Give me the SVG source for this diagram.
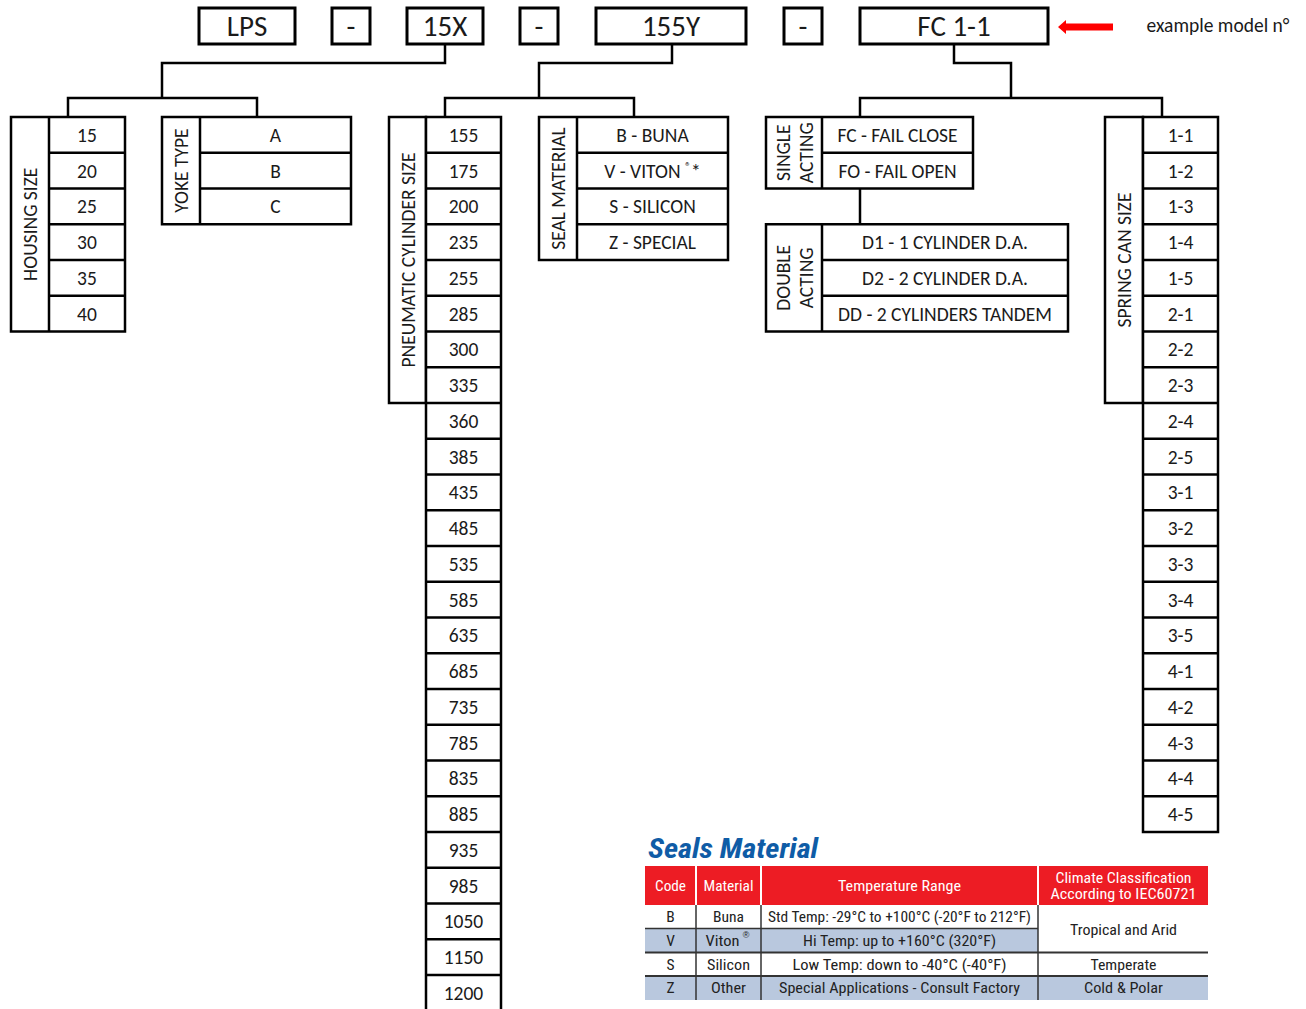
<svg xmlns="http://www.w3.org/2000/svg" width="1306" height="1009" viewBox="0 0 1306 1009">
<style>
.bx{fill:#fff;stroke:#000;stroke-width:2.5}
.tb{fill:#fff;stroke:#000;stroke-width:3}
.ln{stroke:#000;stroke-width:2.5;fill:none}
.t{font-family:Carlito,Lato,"Open Sans",sans-serif;font-size:19.5px;fill:#1a1a1a;text-anchor:middle;dominant-baseline:central}
.tt{font-family:Carlito,Lato,"Open Sans",sans-serif;font-size:29px;fill:#1a1a1a;text-anchor:middle;dominant-baseline:central}
.vl{font-family:Carlito,Lato,"Open Sans",sans-serif;font-size:19.5px;fill:#1a1a1a;text-anchor:middle;dominant-baseline:central}
.n{font-family:"Liberation Sans Narrow","Roboto Condensed","Liberation Sans",sans-serif;font-size:15.5px;fill:#222;text-anchor:middle;dominant-baseline:central}
.h{font-family:"Liberation Sans Narrow","Roboto Condensed","Liberation Sans",sans-serif;font-size:15.5px;fill:#fff;text-anchor:middle;dominant-baseline:central}
.rl{stroke:#333;stroke-width:1.5}
.wl{stroke:#fff;stroke-width:2}
</style>

<g id="connectors">
<path class="ln" d="M445,44 V63 H162 V98 M68,117 V98 H257 V117"/>
<path class="ln" d="M672,44 V63 H539 V98 M445,117 V98 H634 V117"/>
<path class="ln" d="M954,44 V63 H1011 V98 M860,117 V98 H1162 V117"/>
<path class="ln" d="M860,188 V224"/>
<polygon fill="#f00" points="1058,27 1066,20 1066,23.5 1113,23.5 1113,30.5 1066,30.5 1066,34"/>
</g>

<g id="model">
<g id="box-lps"><rect class="tb" x="199" y="8" width="96" height="36"/><text class="tt" x="247" y="26">LPS</text></g>
<g id="dash1"><rect class="tb" x="332" y="8" width="38" height="36"/><text class="tt" x="351" y="26">-</text></g>
<g id="box-15x"><rect class="tb" x="407" y="8" width="76" height="36"/><text class="tt" x="445" y="26">15X</text></g>
<g id="dash2"><rect class="tb" x="520" y="8" width="38" height="36"/><text class="tt" x="539" y="26">-</text></g>
<g id="box-155y"><rect class="tb" x="596" y="8" width="150" height="36"/><text class="tt" x="671" y="26">155Y</text></g>
<g id="dash3"><rect class="tb" x="784" y="8" width="38" height="36"/><text class="tt" x="803" y="26">-</text></g>
<g id="box-fc"><rect class="tb" x="860" y="8" width="188" height="36"/><text class="tt" x="954" y="26">FC 1-1</text></g>
<text id="example" class="t" x="1218" y="25">example model n°</text>
</g>

<g id="housing-size">
<rect class="bx" x="11" y="117" width="114" height="214.5"/>
<path class="ln" d="M49,117 V331.5 M49,152.75 H125 M49,188.5 H125 M49,224.25 H125 M49,260 H125 M49,295.75 H125"/>
<text class="vl" transform="translate(30,224.25) rotate(-90)">HOUSING SIZE</text>
<text class="t" x="87" y="134.9">15</text>
<text class="t" x="87" y="170.6">20</text>
<text class="t" x="87" y="206.4">25</text>
<text class="t" x="87" y="242.1">30</text>
<text class="t" x="87" y="277.9">35</text>
<text class="t" x="87" y="313.6">40</text>
</g>

<g id="yoke-type">
<rect class="bx" x="162" y="117" width="189" height="107.25"/>
<path class="ln" d="M200,117 V224.25 M200,152.75 H351 M200,188.5 H351"/>
<text class="vl" transform="translate(181,170.6) rotate(-90)">YOKE TYPE</text>
<text class="t" x="275.5" y="134.9">A</text>
<text class="t" x="275.5" y="170.6">B</text>
<text class="t" x="275.5" y="206.4">C</text>
</g>

<g id="cylinder-size">
<rect class="bx" x="389" y="117" width="37" height="286"/>
<rect class="bx" x="426" y="117" width="75" height="900"/>
<path class="ln" d="M426,152.75 H501 M426,188.5 H501 M426,224.25 H501 M426,260 H501 M426,295.75 H501 M426,331.5 H501 M426,367.25 H501 M426,403 H501 M426,438.75 H501 M426,474.5 H501 M426,510.25 H501 M426,546 H501 M426,581.75 H501 M426,617.5 H501 M426,653.25 H501 M426,689 H501 M426,724.75 H501 M426,760.5 H501 M426,796.25 H501 M426,832 H501 M426,867.75 H501 M426,903.5 H501 M426,939.25 H501 M426,975 H501"/>
<text class="vl" transform="translate(407.5,260) rotate(-90)">PNEUMATIC CYLINDER SIZE</text>
<text class="t" x="463.5" y="134.9">155</text>
<text class="t" x="463.5" y="170.6">175</text>
<text class="t" x="463.5" y="206.4">200</text>
<text class="t" x="463.5" y="242.1">235</text>
<text class="t" x="463.5" y="277.9">255</text>
<text class="t" x="463.5" y="313.6">285</text>
<text class="t" x="463.5" y="349.4">300</text>
<text class="t" x="463.5" y="385.1">335</text>
<text class="t" x="463.5" y="420.9">360</text>
<text class="t" x="463.5" y="456.6">385</text>
<text class="t" x="463.5" y="492.4">435</text>
<text class="t" x="463.5" y="528.1">485</text>
<text class="t" x="463.5" y="563.9">535</text>
<text class="t" x="463.5" y="599.6">585</text>
<text class="t" x="463.5" y="635.4">635</text>
<text class="t" x="463.5" y="671.1">685</text>
<text class="t" x="463.5" y="706.9">735</text>
<text class="t" x="463.5" y="742.6">785</text>
<text class="t" x="463.5" y="778.4">835</text>
<text class="t" x="463.5" y="814.1">885</text>
<text class="t" x="463.5" y="849.9">935</text>
<text class="t" x="463.5" y="885.6">985</text>
<text class="t" x="463.5" y="921.4">1050</text>
<text class="t" x="463.5" y="957.1">1150</text>
<text class="t" x="463.5" y="992.9">1200</text>
</g>

<g id="seal-material">
<rect class="bx" x="539" y="117" width="189" height="143"/>
<path class="ln" d="M577,117 V260 M577,152.75 H728 M577,188.5 H728 M577,224.25 H728"/>
<text class="vl" transform="translate(558,188.5) rotate(-90)">SEAL MATERIAL</text>
<text class="t" x="652.5" y="134.9">B - BUNA</text>
<text class="t" x="652.5" y="170.6">V - VITON <tspan font-size="12" dy="-5">®</tspan><tspan dy="5">*</tspan></text>
<text class="t" x="652.5" y="206.4">S - SILICON</text>
<text class="t" x="652.5" y="242.1">Z - SPECIAL</text>
</g>

<g id="single-acting">
<rect class="bx" x="766" y="117" width="207" height="71.5"/>
<path class="ln" d="M822,117 V188.5 M822,152.75 H973"/>
<text class="vl" transform="translate(783,152.75) rotate(-90)">SINGLE</text>
<text class="vl" transform="translate(806,152.75) rotate(-90)">ACTING</text>
<text class="t" x="897.5" y="134.9">FC - FAIL CLOSE</text>
<text class="t" x="897.5" y="170.6">FO - FAIL OPEN</text>
</g>

<g id="double-acting">
<rect class="bx" x="766" y="224.25" width="302" height="107.25"/>
<path class="ln" d="M822,224.25 V331.5 M822,260 H1068 M822,295.75 H1068"/>
<text class="vl" transform="translate(783,277.9) rotate(-90)">DOUBLE</text>
<text class="vl" transform="translate(806,277.9) rotate(-90)">ACTING</text>
<text class="t" x="945" y="242.1">D1 - 1 CYLINDER D.A.</text>
<text class="t" x="945" y="277.9">D2 - 2 CYLINDER D.A.</text>
<text class="t" x="945" y="313.6">DD - 2 CYLINDERS TANDEM</text>
</g>

<g id="spring-can-size">
<rect class="bx" x="1105" y="117" width="38" height="286"/>
<rect class="bx" x="1143" y="117" width="75" height="715"/>
<path class="ln" d="M1143,152.75 H1218 M1143,188.5 H1218 M1143,224.25 H1218 M1143,260 H1218 M1143,295.75 H1218 M1143,331.5 H1218 M1143,367.25 H1218 M1143,403 H1218 M1143,438.75 H1218 M1143,474.5 H1218 M1143,510.25 H1218 M1143,546 H1218 M1143,581.75 H1218 M1143,617.5 H1218 M1143,653.25 H1218 M1143,689 H1218 M1143,724.75 H1218 M1143,760.5 H1218 M1143,796.25 H1218"/>
<text class="vl" transform="translate(1124,260) rotate(-90)">SPRING CAN SIZE</text>
<text class="t" x="1180.5" y="134.9">1-1</text>
<text class="t" x="1180.5" y="170.6">1-2</text>
<text class="t" x="1180.5" y="206.4">1-3</text>
<text class="t" x="1180.5" y="242.1">1-4</text>
<text class="t" x="1180.5" y="277.9">1-5</text>
<text class="t" x="1180.5" y="313.6">2-1</text>
<text class="t" x="1180.5" y="349.4">2-2</text>
<text class="t" x="1180.5" y="385.1">2-3</text>
<text class="t" x="1180.5" y="420.9">2-4</text>
<text class="t" x="1180.5" y="456.6">2-5</text>
<text class="t" x="1180.5" y="492.4">3-1</text>
<text class="t" x="1180.5" y="528.1">3-2</text>
<text class="t" x="1180.5" y="563.9">3-3</text>
<text class="t" x="1180.5" y="599.6">3-4</text>
<text class="t" x="1180.5" y="635.4">3-5</text>
<text class="t" x="1180.5" y="671.1">4-1</text>
<text class="t" x="1180.5" y="706.9">4-2</text>
<text class="t" x="1180.5" y="742.6">4-3</text>
<text class="t" x="1180.5" y="778.4">4-4</text>
<text class="t" x="1180.5" y="814.1">4-5</text>
</g>

<g id="seals-table">
<text x="648" y="858" font-family="'Liberation Sans Narrow','Roboto Condensed','Liberation Sans',sans-serif" font-weight="bold" font-style="italic" font-size="27" fill="#0f5ca6" textLength="170" lengthAdjust="spacingAndGlyphs">Seals Material</text>
<rect x="645" y="866" width="563" height="39" fill="#ed1c24"/>
<rect x="645" y="929" width="393" height="23.5" fill="#b9c8de"/>
<rect x="645" y="976" width="563" height="24" fill="#b9c8de"/>
<line class="wl" x1="696" y1="866" x2="696" y2="905"/>
<line class="wl" x1="761" y1="866" x2="761" y2="905"/>
<line class="wl" x1="1038" y1="866" x2="1038" y2="905"/>
<line class="rl" x1="696" y1="905" x2="696" y2="1000"/>
<line class="rl" x1="761" y1="905" x2="761" y2="1000"/>
<line class="rl" x1="1038" y1="905" x2="1038" y2="1000"/>
<line class="rl" x1="645" y1="928.5" x2="1038" y2="928.5"/>
<line x1="645" y1="952.5" x2="1208" y2="952.5" stroke="#333" stroke-width="2"/>
<line x1="645" y1="976" x2="1208" y2="976" stroke="#333" stroke-width="2"/>
<text class="h" x="670.5" y="885.5" textLength="31" lengthAdjust="spacingAndGlyphs">Code</text>
<text class="h" x="728.5" y="885.5" textLength="50" lengthAdjust="spacingAndGlyphs">Material</text>
<text class="h" x="899.5" y="885.5" textLength="123" lengthAdjust="spacingAndGlyphs">Temperature Range</text>
<text class="h" x="1123.5" y="877.5" textLength="136" lengthAdjust="spacingAndGlyphs">Climate Classification</text>
<text class="h" x="1123.5" y="893.5" textLength="146" lengthAdjust="spacingAndGlyphs">According to IEC60721</text>
<text class="n" x="670.5" y="917">B</text>
<text class="n" x="728.5" y="917" textLength="31" lengthAdjust="spacingAndGlyphs">Buna</text>
<text class="n" x="899.5" y="917" textLength="263" lengthAdjust="spacingAndGlyphs">Std Temp: -29°C to +100°C (-20°F to 212°F)</text>
<text class="n" x="1123.5" y="929.5" textLength="107" lengthAdjust="spacingAndGlyphs">Tropical and Arid</text>
<text class="n" x="670.5" y="941">V</text>
<text class="n" x="722.5" y="941" textLength="34" lengthAdjust="spacingAndGlyphs">Viton</text>
<text x="746" y="938" font-family="'Liberation Sans',sans-serif" font-size="9" fill="#222" text-anchor="middle">®</text>
<text class="n" x="899.5" y="941" textLength="193" lengthAdjust="spacingAndGlyphs">Hi Temp: up to +160°C (320°F)</text>
<text class="n" x="670.5" y="964.5">S</text>
<text class="n" x="728.5" y="964.5" textLength="43" lengthAdjust="spacingAndGlyphs">Silicon</text>
<text class="n" x="899.5" y="964.5" textLength="214" lengthAdjust="spacingAndGlyphs">Low Temp: down to -40°C (-40°F)</text>
<text class="n" x="1123.5" y="964.5" textLength="66" lengthAdjust="spacingAndGlyphs">Temperate</text>
<text class="n" x="670.5" y="988">Z</text>
<text class="n" x="728.5" y="988" textLength="35" lengthAdjust="spacingAndGlyphs">Other</text>
<text class="n" x="899.5" y="988" textLength="241" lengthAdjust="spacingAndGlyphs">Special Applications - Consult Factory</text>
<text class="n" x="1123.5" y="988" textLength="79" lengthAdjust="spacingAndGlyphs">Cold &amp; Polar</text>
</g>
</svg>
